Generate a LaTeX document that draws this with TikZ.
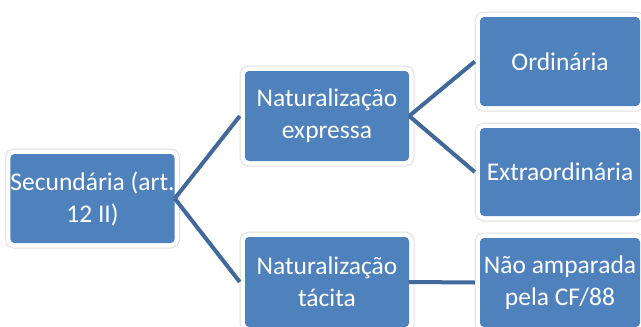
\documentclass[tikz,border=0pt]{standalone}
\usepackage{fontspec}
\setmainfont{Carlito}
\definecolor{boxblue}{HTML}{4F81BD}
\definecolor{linkblue}{HTML}{41699A}
\definecolor{rimgray}{HTML}{DEDEDE}
\tikzset{
  box/.style={rectangle, rounded corners=4pt, fill=boxblue, text=white,
    align=center, inner sep=0pt, minimum width=#1, minimum height=89pt,
    font=\fontsize{25.5}{32}\selectfont,
    preaction={draw=rimgray, line width=11pt},
    preaction={draw=white, line width=9pt}},
  box/.default=162pt,
  link/.style={draw=linkblue, line width=4pt}
}
\begin{document}
\begin{tikzpicture}[x=1pt,y=-1pt]
\useasboundingbox (0,0) rectangle (641,327);
\clip (0,0) rectangle (641,327);
\node[box=161pt] (sec) at (92.5,198.5) {Secundária (art.\\12 II)};
\node[box=164pt, minimum height=90pt] (exp) at (327,116) {Naturalização\\expressa};
\node[box=164pt, minimum height=90pt] (tac) at (327,282) {Naturalização\\tácita};
\node[box=160pt] (ord) at (560,61.5) {Ordinária};
\node[box=160pt, minimum height=88pt] (ext) at (560,172) {Extraordinária};
\node[box=160pt] (nao) at (560,282.5) {Não amparada\\pela CF/88};
\draw[link] (sec.east) -- ([xshift=-5pt]exp.west);
\draw[link] (sec.east) -- ([xshift=-5pt]tac.west);
\draw[link] (exp.east) -- ([xshift=-5pt]ord.west);
\draw[link] (exp.east) -- ([xshift=-5pt]ext.west);
\draw[link] (tac.east) -- ([xshift=-5pt]nao.west);
\end{tikzpicture}
\end{document}
